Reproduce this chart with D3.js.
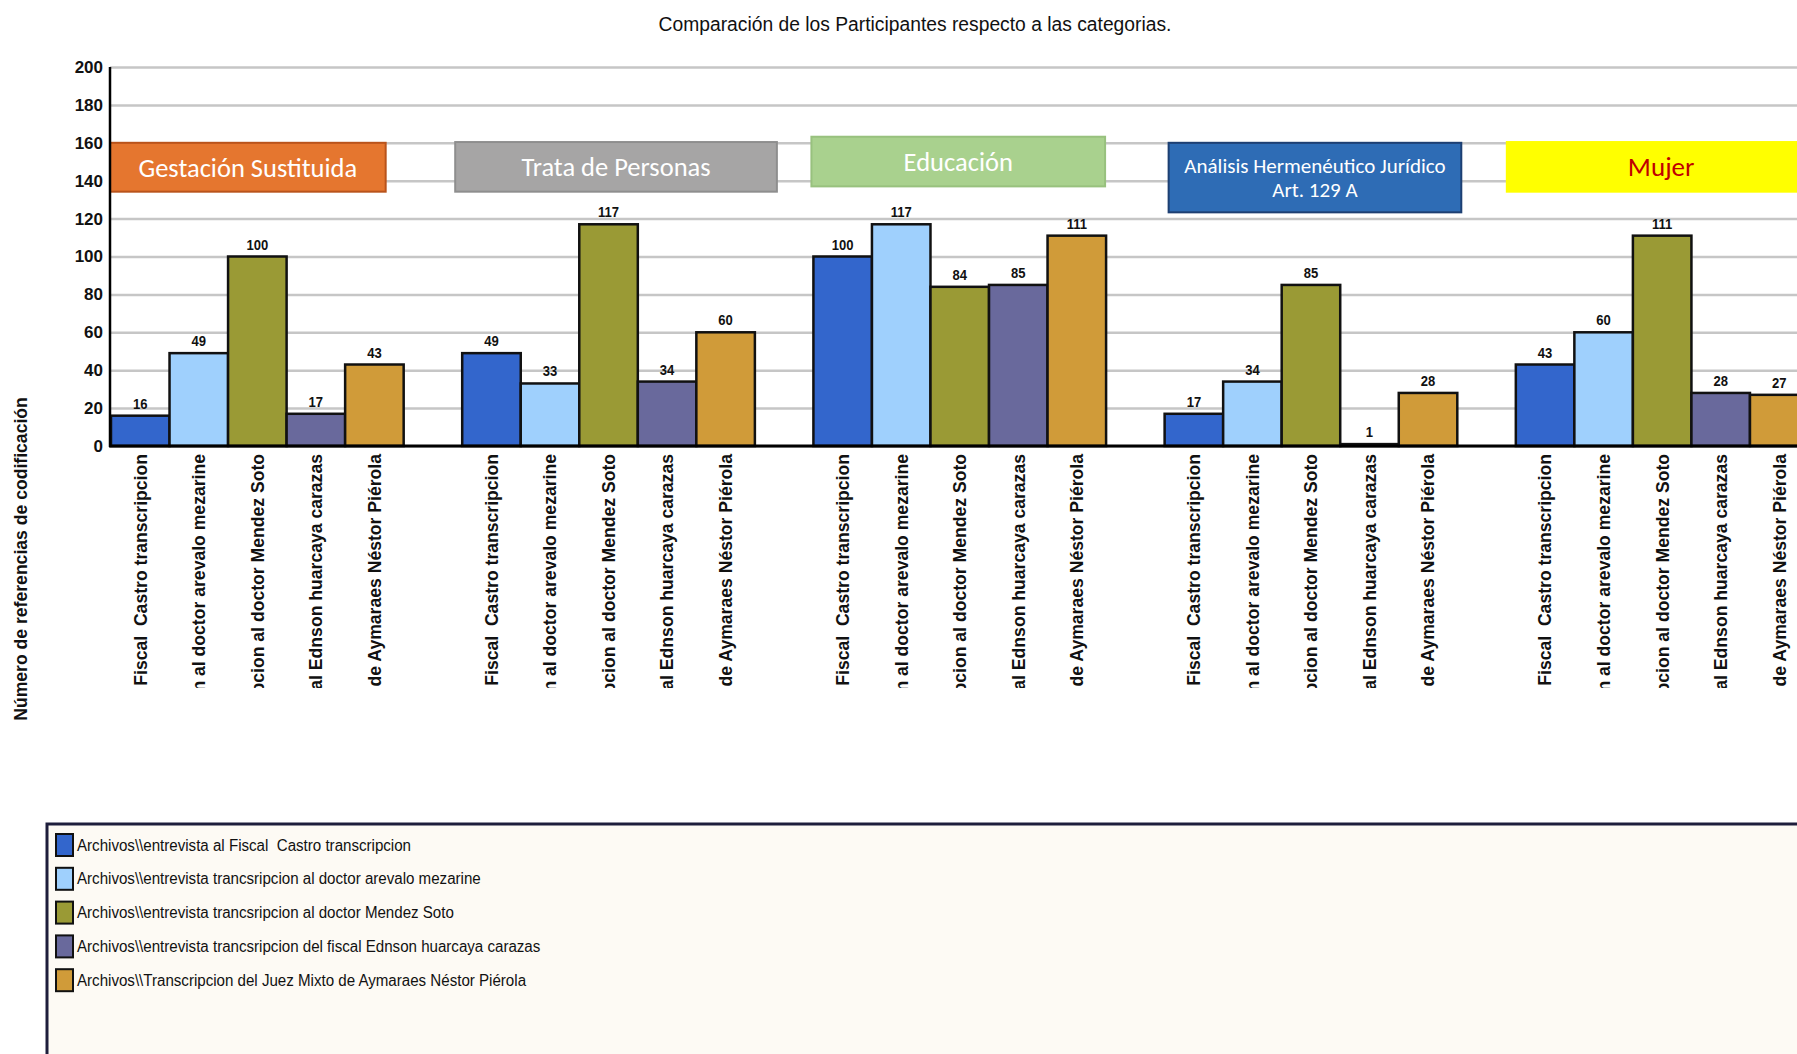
<!DOCTYPE html>
<html><head><meta charset="utf-8">
<script src="https://cdn.jsdelivr.net/npm/d3@7"></script>
<style>body{margin:0;background:#fff;overflow:hidden} svg{display:block} text{white-space:pre}</style>
</head><body>
<svg id="chart" width="1797" height="1054"></svg>
<script>
// ---------- DATA ----------
const categories = ["Gestación Sustituida", "Trata de Personas", "Educación", "Análisis Hermenéutico Jurídico Art. 129 A", "Mujer"];
const categoryLines = [["Gestación Sustituida"], ["Trata de Personas"], ["Educación"], ["Análisis Hermenéutico Jurídico", "Art. 129 A"], ["Mujer"]];
const seriesNames = [
  "Archivos\\\\entrevista al Fiscal  Castro transcripcion",
  "Archivos\\\\entrevista trancsripcion al doctor arevalo mezarine",
  "Archivos\\\\entrevista trancsripcion al doctor Mendez Soto",
  "Archivos\\\\entrevista trancsripcion del fiscal Ednson huarcaya carazas",
  "Archivos\\\\Transcripcion del Juez Mixto de Aymaraes Néstor Piérola"
];
const fiscalCastro = [16, 49, 100, 17, 43];
const arevaloMezarine = [49, 33, 117, 34, 60];
const mendezSoto = [100, 117, 84, 85, 111];
const ednsonHuarcaya = [17, 34, 85, 1, 28];
const nestorPierola = [43, 60, 111, 28, 27];
const seriesValues = [fiscalCastro, arevaloMezarine, mendezSoto, ednsonHuarcaya, nestorPierola];
const yTicks = [0, 20, 40, 60, 80, 100, 120, 140, 160, 180, 200];
const title = "Comparación de los Participantes respecto a las categorias.";
const yTitle = "Número de referencias de codificación";

// ---------- STYLE / LAYOUT ----------
const W = 1797, H = 1054;
const seriesColors = ["#3366cc", "#9fd0fd", "#9a9a35", "#69699c", "#d09b39"];
const boxStyle = [
  {fill: "#e5762f", stroke: "#b9531b", text: "#ffffff", top: 160, bottom: 134.2, dx0: -1, dx1: -18, size: 26.5},
  {fill: "#a6a5a5", stroke: "#8e8e8e", text: "#ffffff", top: 160.4, bottom: 134.2, dx0: -7, dx1: 22, size: 26.5},
  {fill: "#a9d18e", stroke: "#98c17e", text: "#ffffff", top: 163.2, bottom: 137, dx0: -2, dx1: -1, size: 26.5},
  {fill: "#2e6cb5", stroke: "#1d3f72", text: "#ffffff", top: 160, bottom: 123.3, dx0: 4, dx1: 4, size: 21},
  {fill: "#ffff00", stroke: "#ffff00", text: "#c00000", top: 160.4, bottom: 134.2, dx0: -9, dx1: 7, size: 27}
];
const sans = "'Liberation Sans',Arial,sans-serif";
const calibri = "Carlito,Calibri,Lato,'Open Sans',sans-serif";

const svg = d3.select("#chart");
svg.append("rect").attr("width", W).attr("height", H).attr("fill", "#fff");

const y = d3.scaleLinear().domain([0, 200]).range([446, 67]);
const x0 = d3.scaleBand().domain(categories).range([111, 1808.5]).paddingInner(1 / 6).paddingOuter(0);
const x1 = d3.scaleBand().domain(seriesNames).range([0, x0.bandwidth()]);

// title (condensed look)
svg.append("text").attr("transform", "translate(915,31) scale(0.918,1)").attr("text-anchor", "middle")
  .style("font-family", sans).style("font-size", "21px").attr("fill", "#111").text(title);

// gridlines
const grid = svg.append("g").attr("transform", "translate(110,0)")
  .call(d3.axisLeft(y).tickValues(yTicks).tickSize(-(W - 110)).tickFormat(""));
grid.select(".domain").remove();
grid.selectAll("line").attr("stroke", "#c6c6c6").attr("stroke-width", 2.5);

// y axis labels
const yAxis = svg.append("g").attr("transform", "translate(110,0)")
  .call(d3.axisLeft(y).tickValues(yTicks).tickSize(0).tickPadding(7));
yAxis.select(".domain").remove();
yAxis.selectAll("text").style("font-family", sans).style("font-size", "17px")
  .style("font-weight", "bold").attr("fill", "#111");

// y title
svg.append("text").attr("transform", "translate(27,559) rotate(-90)").attr("text-anchor", "middle")
  .style("font-family", sans).style("font-size", "17.6px").style("font-weight", "bold")
  .attr("fill", "#111").text(yTitle);

// category boxes
const boxes = svg.append("g").selectAll("g").data(categories).join("g");
boxes.each(function (c, i) {
  const st = boxStyle[i];
  const g = d3.select(this);
  const xa = x0(c) + st.dx0, xb = x0(c) + x0.bandwidth() + st.dx1;
  const ya = y(st.top), yb = y(st.bottom);
  g.append("rect").attr("x", xa).attr("y", ya).attr("width", xb - xa).attr("height", yb - ya)
    .attr("fill", st.fill).attr("stroke", st.stroke).attr("stroke-width", 2);
  const lines = categoryLines[i];
  const lh = st.size * 1.15;
  const cy = (ya + yb) / 2 - (lines.length - 1) * lh / 2;
  lines.forEach((ln, k) => {
    g.append("text").attr("x", (xa + xb) / 2).attr("y", cy + k * lh).attr("dy", "0.35em")
      .attr("text-anchor", "middle").style("font-family", calibri).style("font-size", st.size + "px")
      .attr("fill", st.text).text(ln);
  });
});

// bars
const flat = [];
categories.forEach((c, ci) => seriesNames.forEach((s, si) => flat.push({c, s, si, v: seriesValues[si][ci]})));
const bars = svg.append("g");
bars.selectAll("rect").data(flat).join("rect")
  .attr("x", d => x0(d.c) + x1(d.s))
  .attr("y", d => y(d.v))
  .attr("width", x1.bandwidth())
  .attr("height", d => y(0) - y(d.v))
  .attr("fill", d => seriesColors[d.si])
  .attr("stroke", "#111").attr("stroke-width", 2.5);

bars.selectAll("text").data(flat).join("text")
  .attr("transform", d => `translate(${x0(d.c) + x1(d.s) + x1.bandwidth() / 2},${y(d.v) - 7}) scale(0.9,1)`)
  .attr("text-anchor", "middle")
  .style("font-family", sans).style("font-size", "14.5px").style("font-weight", "bold")
  .attr("fill", "#111").text(d => d.v);

// axes lines
svg.append("line").attr("x1", 110).attr("x2", 110).attr("y1", 67).attr("y2", 447)
  .attr("stroke", "#000").attr("stroke-width", 2.5);
svg.append("line").attr("x1", 109).attr("x2", W).attr("y1", 446).attr("y2", 446)
  .attr("stroke", "#000").attr("stroke-width", 3);

// x labels (clipped)
svg.append("clipPath").attr("id", "xclip").append("rect")
  .attr("x", 100).attr("y", 449).attr("width", W).attr("height", 239);
const xl = svg.append("g").attr("clip-path", "url(#xclip)");
xl.selectAll("text").data(flat).join("text")
  .attr("transform", d => `translate(${x0(d.c) + x1(d.s) + x1.bandwidth() / 2},454) rotate(-90)`)
  .attr("text-anchor", "end").attr("dy", "0.36em").attr("xml:space", "preserve")
  .style("font-family", sans).style("font-size", "17.6px").style("font-weight", "bold")
  .attr("fill", "#111").text(d => d.s);

// legend
const lg = svg.append("g");
lg.append("rect").attr("x", 47).attr("y", 824).attr("width", W).attr("height", 260)
  .attr("fill", "#fdfaf4").attr("stroke", "#1e1e3c").attr("stroke-width", 3);
const items = lg.selectAll("g.item").data(seriesNames).join("g").attr("class", "item")
  .attr("transform", (d, i) => `translate(0,${845 + i * 33.8})`);
items.append("rect").attr("x", 56).attr("y", -11).attr("width", 17).attr("height", 22)
  .attr("fill", (d, i) => seriesColors[i]).attr("stroke", "#111").attr("stroke-width", 2);
items.append("text").attr("transform", "translate(77,0) scale(0.945,1)").attr("dy", "0.35em")
  .attr("xml:space", "preserve")
  .style("font-family", sans).style("font-size", "16px").attr("fill", "#111").text(d => d);
</script>
</body></html>
